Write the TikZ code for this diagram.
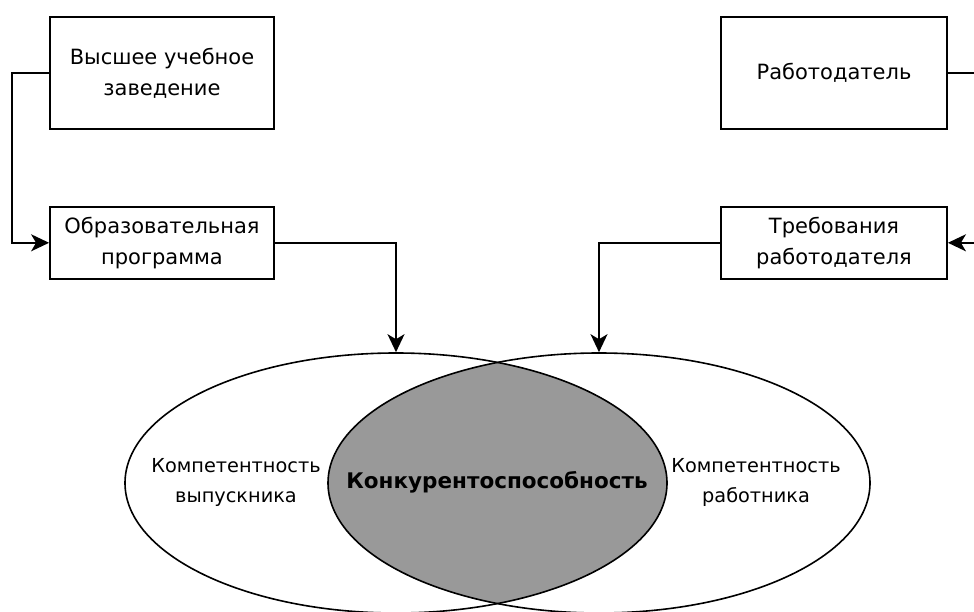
\documentclass[tikz,border=0pt]{standalone}
\usepackage{fontspec}
\setmainfont{DejaVu Sans}
\usetikzlibrary{arrows.meta,positioning,shapes.geometric}
\definecolor{overlap}{RGB}{153,153,153}

\begin{document}
\begin{tikzpicture}[x=1pt,y=-1pt,
      block/.style={draw,line width=1.8pt,minimum width=224pt,align=center,inner sep=0pt,font=\fontsize{21}{31}\selectfont},
      oval/.style={draw,line width=1.6pt,ellipse,minimum width=542pt,minimum height=260pt,inner sep=0pt},
      lbl/.style={align=center,inner sep=0pt,font=\fontsize{19.3}{30}\selectfont},
      arr/.style={-{Stealth[length=18pt,width=17pt,inset=5pt]},line width=1.8pt}
    ]
      \useasboundingbox (0,0) rectangle (974,612);
      \clip (0,0) rectangle (974,612);
      \node[block,minimum height=112pt] (vuz) at (162,73) {Высшее учебное\\заведение};
      \node[block,minimum height=72pt,below=76pt of vuz] (prog) {Образовательная\\программа};
      \node[block,minimum width=226pt,minimum height=112pt] (empl) at (834,73) {Работодатель};
      \node[block,minimum width=226pt,minimum height=72pt,below=76pt of empl] (req) {Требования\\работодателя};
      % overlap of the two ovals
      \begin{scope}
        \clip (396,483) ellipse [x radius=271, y radius=130];
        \fill[overlap] (599,483) ellipse [x radius=271, y radius=130];
      \end{scope}
      \node[oval] (grad) at (396,483) {};
      \node[oval] (work) at (599,483) {};
      \node[lbl] (gradtxt) at (236,482) {Компетентность\\выпускника};
      \node[lbl] (worktxt) at (756,482) {Компетентность\\работника};
      \node[lbl,font=\fontsize{21.5}{30}\selectfont\bfseries] (comp) at (497,482) {Конкурентоспособность};
      \coordinate (lt) at (12,73);
      \coordinate (rt) at (990,73);
      \draw[arr] (vuz.west) -- (lt) |- (prog.west);
      \draw[arr] (empl.east) -- (rt) |- (req.east);
      \draw[arr] (prog.east) -| (grad.north);
      \draw[arr] (req.west) -| (work.north);
    \end{tikzpicture}
\end{document}
